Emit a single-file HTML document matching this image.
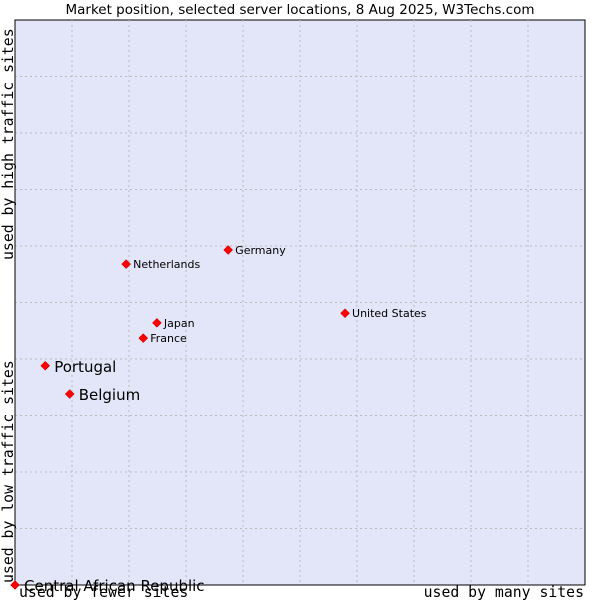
<!DOCTYPE html>
<html><head><meta charset="utf-8"><style>
body{margin:0;background:#fff;}
svg{display:block;font-family:"DejaVu Sans",sans-serif;}
</style></head><body>
<svg id="c" width="600" height="600">
<text x="300" y="14" text-anchor="middle" font-size="13.5" fill="#000">Market position, selected server locations, 8 Aug 2025, W3Techs.com</text>
<rect x="15" y="20" width="570" height="565" fill="#e3e5f8" stroke="#000" stroke-width="1"/>
<g id="grid"></g>
<line x1="15" y1="20" x2="15" y2="585" stroke="#000"/>
<line x1="15" y1="585" x2="585" y2="585" stroke="#000"/>
<text x="19" y="597" font-family="DejaVu Sans Mono,monospace" font-size="14.8">used by fewer sites</text>
<text x="584" y="597" text-anchor="end" font-family="DejaVu Sans Mono,monospace" font-size="14.8">used by many sites</text>
<text transform="translate(13,260) rotate(-90)" font-family="DejaVu Sans Mono,monospace" font-size="14.8">used by high traffic sites</text>
<text transform="translate(13,583) rotate(-90)" font-family="DejaVu Sans Mono,monospace" font-size="14.8">used by low traffic sites</text>
<g id="pts"></g>
</svg>
<script>
const names=["Germany","Netherlands","United States","Japan","France","Portugal","Belgium","Central African Republic"];
const xVals=[3.74,1.95,5.79,2.49,2.25,0.53,0.96,0];
const yVals=[5.93,5.68,4.81,4.64,4.37,3.88,3.38,0];
const big=[false,false,false,false,false,true,true,true];
const NS="http://www.w3.org/2000/svg";
const X=v=>15+v*57, Y=v=>585-v*56.5;
const g=document.getElementById('grid');
for(let i=1;i<10;i++){
  let l=document.createElementNS(NS,'line');
  l.setAttribute('x1',X(i));l.setAttribute('x2',X(i));l.setAttribute('y1',20);l.setAttribute('y2',585);
  l.setAttribute('stroke','#bbb');l.setAttribute('stroke-dasharray','2,3');
  
  
  g.appendChild(l);
  let h=document.createElementNS(NS,'line');
  h.setAttribute('y1',Y(i));h.setAttribute('y2',Y(i));h.setAttribute('x1',15);h.setAttribute('x2',585);
  h.setAttribute('stroke','#bbb');h.setAttribute('stroke-dasharray','2,3');
  
  
  g.appendChild(h);
}
const p=document.getElementById('pts');
names.forEach((n,i)=>{
  const x=X(xVals[i]),y=Y(yVals[i]);
  let d=document.createElementNS(NS,'path');
  d.setAttribute('d',`M${x},${y-4.5}L${x+4.5},${y}L${x},${y+4.5}L${x-4.5},${y}Z`);
  d.setAttribute('fill','#f00');d.setAttribute('stroke','#a00');d.setAttribute('stroke-width','0.5');
  
  
  p.appendChild(d);
  let t=document.createElementNS(NS,'text');
  t.setAttribute('x',x+(big[i]?9:7));t.setAttribute('y',y+(big[i]?6:4));
  t.setAttribute('font-size',big[i]?'15':'11');
  t.textContent=n;
  
  
  p.appendChild(t);
});
</script>
</body></html>
